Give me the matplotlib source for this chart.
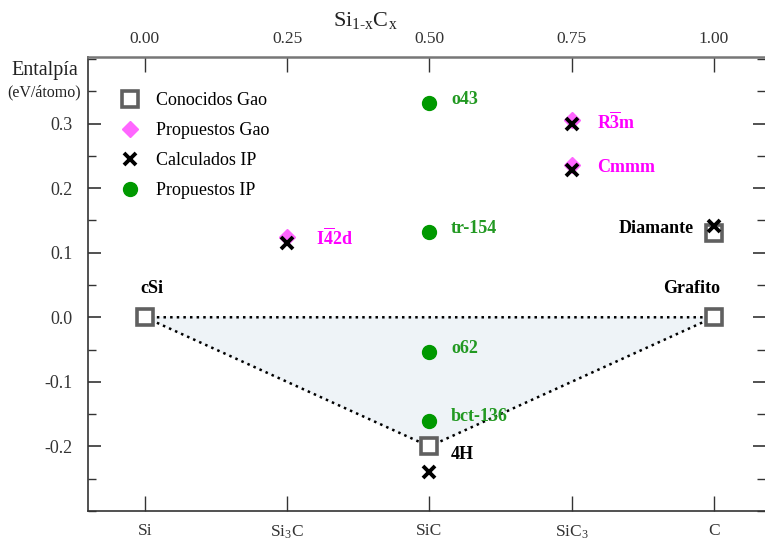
import matplotlib
matplotlib.use("Agg")
import matplotlib.pyplot as plt
from matplotlib.ticker import MultipleLocator

plt.rcParams["font.family"] = ["Liberation Serif", "DejaVu Serif"]
plt.rcParams["mathtext.fontset"] = "custom"
plt.rcParams["mathtext.rm"] = "Liberation Serif"
plt.rcParams["mathtext.it"] = "Liberation Serif"
plt.rcParams["mathtext.bf"] = "Liberation Serif:bold"

# composition x in Si(1-x)C(x), enthalpy in eV/atom
comp_ticks = [0.0, 0.25, 0.5, 0.75, 1.0]
comp_top_labels = ["0.00", "0.25", "0.50", "0.75", "1.00"]
comp_bottom_labels = ["Si", r"Si$_3$C", "SiC", r"SiC$_3$", "C"]

gao_known_x = [0.0, 1.0, 0.5, 1.0]
gao_known_h = [0.0, 0.0, -0.20, 0.130]

gao_prop_x = [0.25, 0.75, 0.75]
gao_prop_h = [0.124, 0.305, 0.236]

ip_calc_x = [0.25, 0.75, 0.75, 1.0, 0.5]
ip_calc_h = [0.115, 0.299, 0.228, 0.141, -0.239]

ip_prop_x = [0.5, 0.5, 0.5, 0.5]
ip_prop_h = [0.332, 0.132, -0.054, -0.160]
ip_prop_names = ["o43", "tr-154", "o62", "bct-136"]

hull_x = [0.0, 0.5, 1.0]
hull_h = [0.0, -0.20, 0.0]

fig = plt.figure(figsize=(7.65, 5.41), dpi=100)
ax = fig.add_axes([0.115, 0.0555, 0.885, 0.839])
ax.set_xlim(-0.1, 1.09)
ax.set_ylim(-0.3, 0.403)

# convex hull region
ax.fill(hull_x, hull_h, color="#eef3f7", zorder=1)
ax.plot(hull_x + [hull_x[0]], hull_h + [hull_h[0]], ls=":", color="black", lw=1.8, zorder=2)

ax.plot(gao_known_x, gao_known_h, ls="none", marker="s", ms=11, mfc="white",
        mec="#606060", mew=2.6, zorder=3, label="Conocidos Gao")
ax.plot(gao_prop_x, gao_prop_h, ls="none", marker="D", ms=8.5, mfc="#ff66ff",
        mec="#ff66ff", zorder=3, label="Propuestos Gao")
ax.plot(ip_calc_x, ip_calc_h, ls="none", marker="x", ms=9, mew=2.8,
        color="black", zorder=4, label="Calculados IP")
ax.plot(ip_prop_x, ip_prop_h, ls="none", marker="o", ms=10, color="#009900",
        zorder=3, label="Propuestos IP")

ax.legend(loc="upper left", bbox_to_anchor=(0.0, 0.987), frameon=False,
          fontsize=13, handletextpad=0.65, labelspacing=0.72,
          borderaxespad=1.2, borderpad=0.4, handlelength=1.5)

green = "#229922"
for xv, hv, name in zip(ip_prop_x, ip_prop_h, ip_prop_names):
    ax.text(xv + 0.038, hv + 0.006, name, color=green, fontsize=13,
            fontweight="bold", ha="left", va="center", zorder=5)

magenta = "#ff00ff"
ax.text(0.795, 0.302, r"$\mathbf{R\overline{3}m}$", color=magenta, fontsize=13,
        ha="left", va="center")
ax.text(0.795, 0.232, "Cmmm", color=magenta, fontsize=13, fontweight="bold",
        ha="left", va="center")
ax.text(0.300, 0.122, r"$\mathbf{I\overline{4}2d}$", color=magenta, fontsize=13,
        ha="left", va="center")

ax.text(0.012, 0.045, "cSi", fontsize=13, fontweight="bold", ha="center", va="center")
ax.text(0.961, 0.045, "Grafito", fontsize=13, fontweight="bold", ha="center", va="center")
ax.text(0.538, -0.212, "4H", fontsize=13, fontweight="bold", ha="left", va="center")
ax.text(0.965, 0.138, "Diamante", fontsize=13, fontweight="bold", ha="right", va="center")

# axes styling
ax.spines["right"].set_visible(False)
ax.spines["top"].set_color("#777777")
ax.spines["top"].set_linewidth(1.8)
ax.spines["left"].set_color("#333333")
ax.spines["bottom"].set_color("#333333")
ax.spines["left"].set_linewidth(1.2)
ax.spines["bottom"].set_linewidth(1.2)

ax.set_xticks(comp_ticks)
ax.set_xticklabels(comp_bottom_labels, fontsize=12.5, color="#333333")
ax.tick_params(axis="x", direction="in", length=11, width=1, pad=9, color="#333333")

ax.set_yticks([-0.2, -0.1, 0.0, 0.1, 0.2, 0.3])
ax.set_yticklabels(["-0.2", "-0.1", "0.0", "0.1", "0.2", "0.3"], fontsize=13, color="#333333")
ax.yaxis.set_minor_locator(MultipleLocator(0.05))
ax.tick_params(axis="y", which="major", direction="in", length=9, width=1.2,
               right=True, pad=11, color="#333333")
ax.tick_params(axis="y", which="minor", direction="in", length=6, width=1,
               right=True, color="#333333")

top = ax.secondary_xaxis("top")
top.set_xticks(comp_ticks)
top.set_xticklabels(comp_top_labels, fontsize=12.5, color="#333333")
top.tick_params(direction="in", length=11, width=1, pad=7, color="#333333")
top.spines["top"].set_visible(False)

fig.text(0.478, 0.962, r"Si$_{\mathrm{1\text{-}x}}$C$_{\mathrm{x}}$", fontsize=16,
         ha="center", va="center", color="#222222")
fig.text(0.058, 0.87, "Entalpía", fontsize=14.5, ha="center", va="center", color="#222222")
fig.text(0.058, 0.829, "(eV/átomo)", fontsize=11.5, ha="center", va="center", color="#222222")

fig.savefig("out.png", dpi=100)
